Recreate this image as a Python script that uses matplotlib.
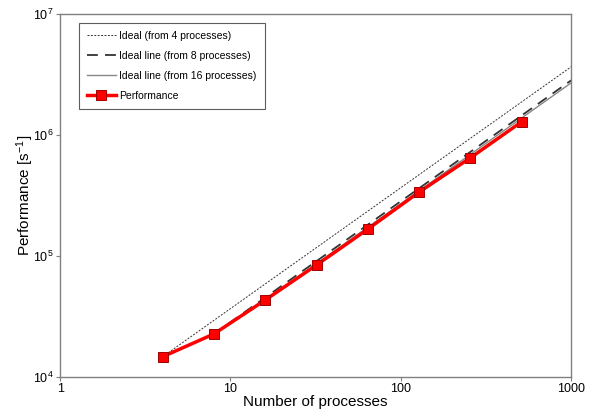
import matplotlib
matplotlib.use("Agg")
import matplotlib.pyplot as plt
import numpy as np

plt.rcParams['font.family'] = ['Liberation Sans', 'DejaVu Sans']
plt.rcParams['mathtext.fontset'] = 'custom'
plt.rcParams['mathtext.rm'] = 'Liberation Sans'
plt.rcParams['mathtext.it'] = 'Liberation Sans:italic'

processes = [4, 8, 16, 32, 64, 128, 256, 512]
performance = [1.47e4, 2.27e4, 4.33e4, 8.43e4, 1.67e5, 3.38e5, 6.49e5, 1.29e6]
x_end = 1000

fig = plt.figure(figsize=(5.95, 4.17), dpi=100)
ax = fig.add_axes([0.101, 0.096, 0.859, 0.870])

def ideal(start_idx):
    n0 = processes[start_idx]
    p0 = performance[start_idx]
    xs = [n0, x_end]
    ys = [p0 * x / n0 for x in xs]
    return xs, ys

xs, ys = ideal(0)
ax.plot(xs, ys, color='#333333', lw=0.7, ls=(0, (2, 1.5)), label='Ideal (from 4 processes)')
xs, ys = ideal(1)
ax.plot(xs, ys, color='#333333', lw=1.3, ls=(0, (6, 4)), label='Ideal line (from 8 processes)')
xs, ys = ideal(2)
ax.plot(xs, ys, color='#888888', lw=1.0, ls='-', label='Ideal line (from 16 processes)')
ax.plot(processes, performance, color='#ff0000', lw=2.5, marker='s', ms=7.5,
        mfc='#ff0000', mec='#a00000', mew=0.7, label='Performance')

ax.set_xscale('log')
ax.set_yscale('log')
ax.set_xlim(1, 1000)
ax.set_ylim(1e4, 1e7)
ax.minorticks_off()
ax.set_xticks([1, 10, 100, 1000])
ax.set_xticklabels(['1', '10', '100', '1000'])
ax.set_yticks([1e4, 1e5, 1e6, 1e7])
ax.set_yticklabels(['$10^4$', '$10^5$', '$10^6$', '$10^7$'])

for s in ax.spines.values():
    s.set_color('#808080')
    s.set_linewidth(1.0)
ax.tick_params(axis='both', which='major', length=3, width=0.8, color='#808080',
               labelsize=9, direction='out', pad=1.5)

ax.set_xlabel('Number of processes', fontsize=11, labelpad=0)
ax.set_ylabel('Performance [s$^{-1}$]', fontsize=11)
ax.yaxis.set_label_coords(-0.047, 0.5)

leg = ax.legend(loc='upper left', bbox_to_anchor=(0.03, 0.985), fontsize=7.5,
                frameon=True, fancybox=False, edgecolor='#333333',
                handlelength=2.8, handletextpad=0.3, labelspacing=0.95,
                borderpad=0.8, borderaxespad=0.3)
leg.get_frame().set_linewidth(0.8)

fig.savefig('out.png', dpi=100)
